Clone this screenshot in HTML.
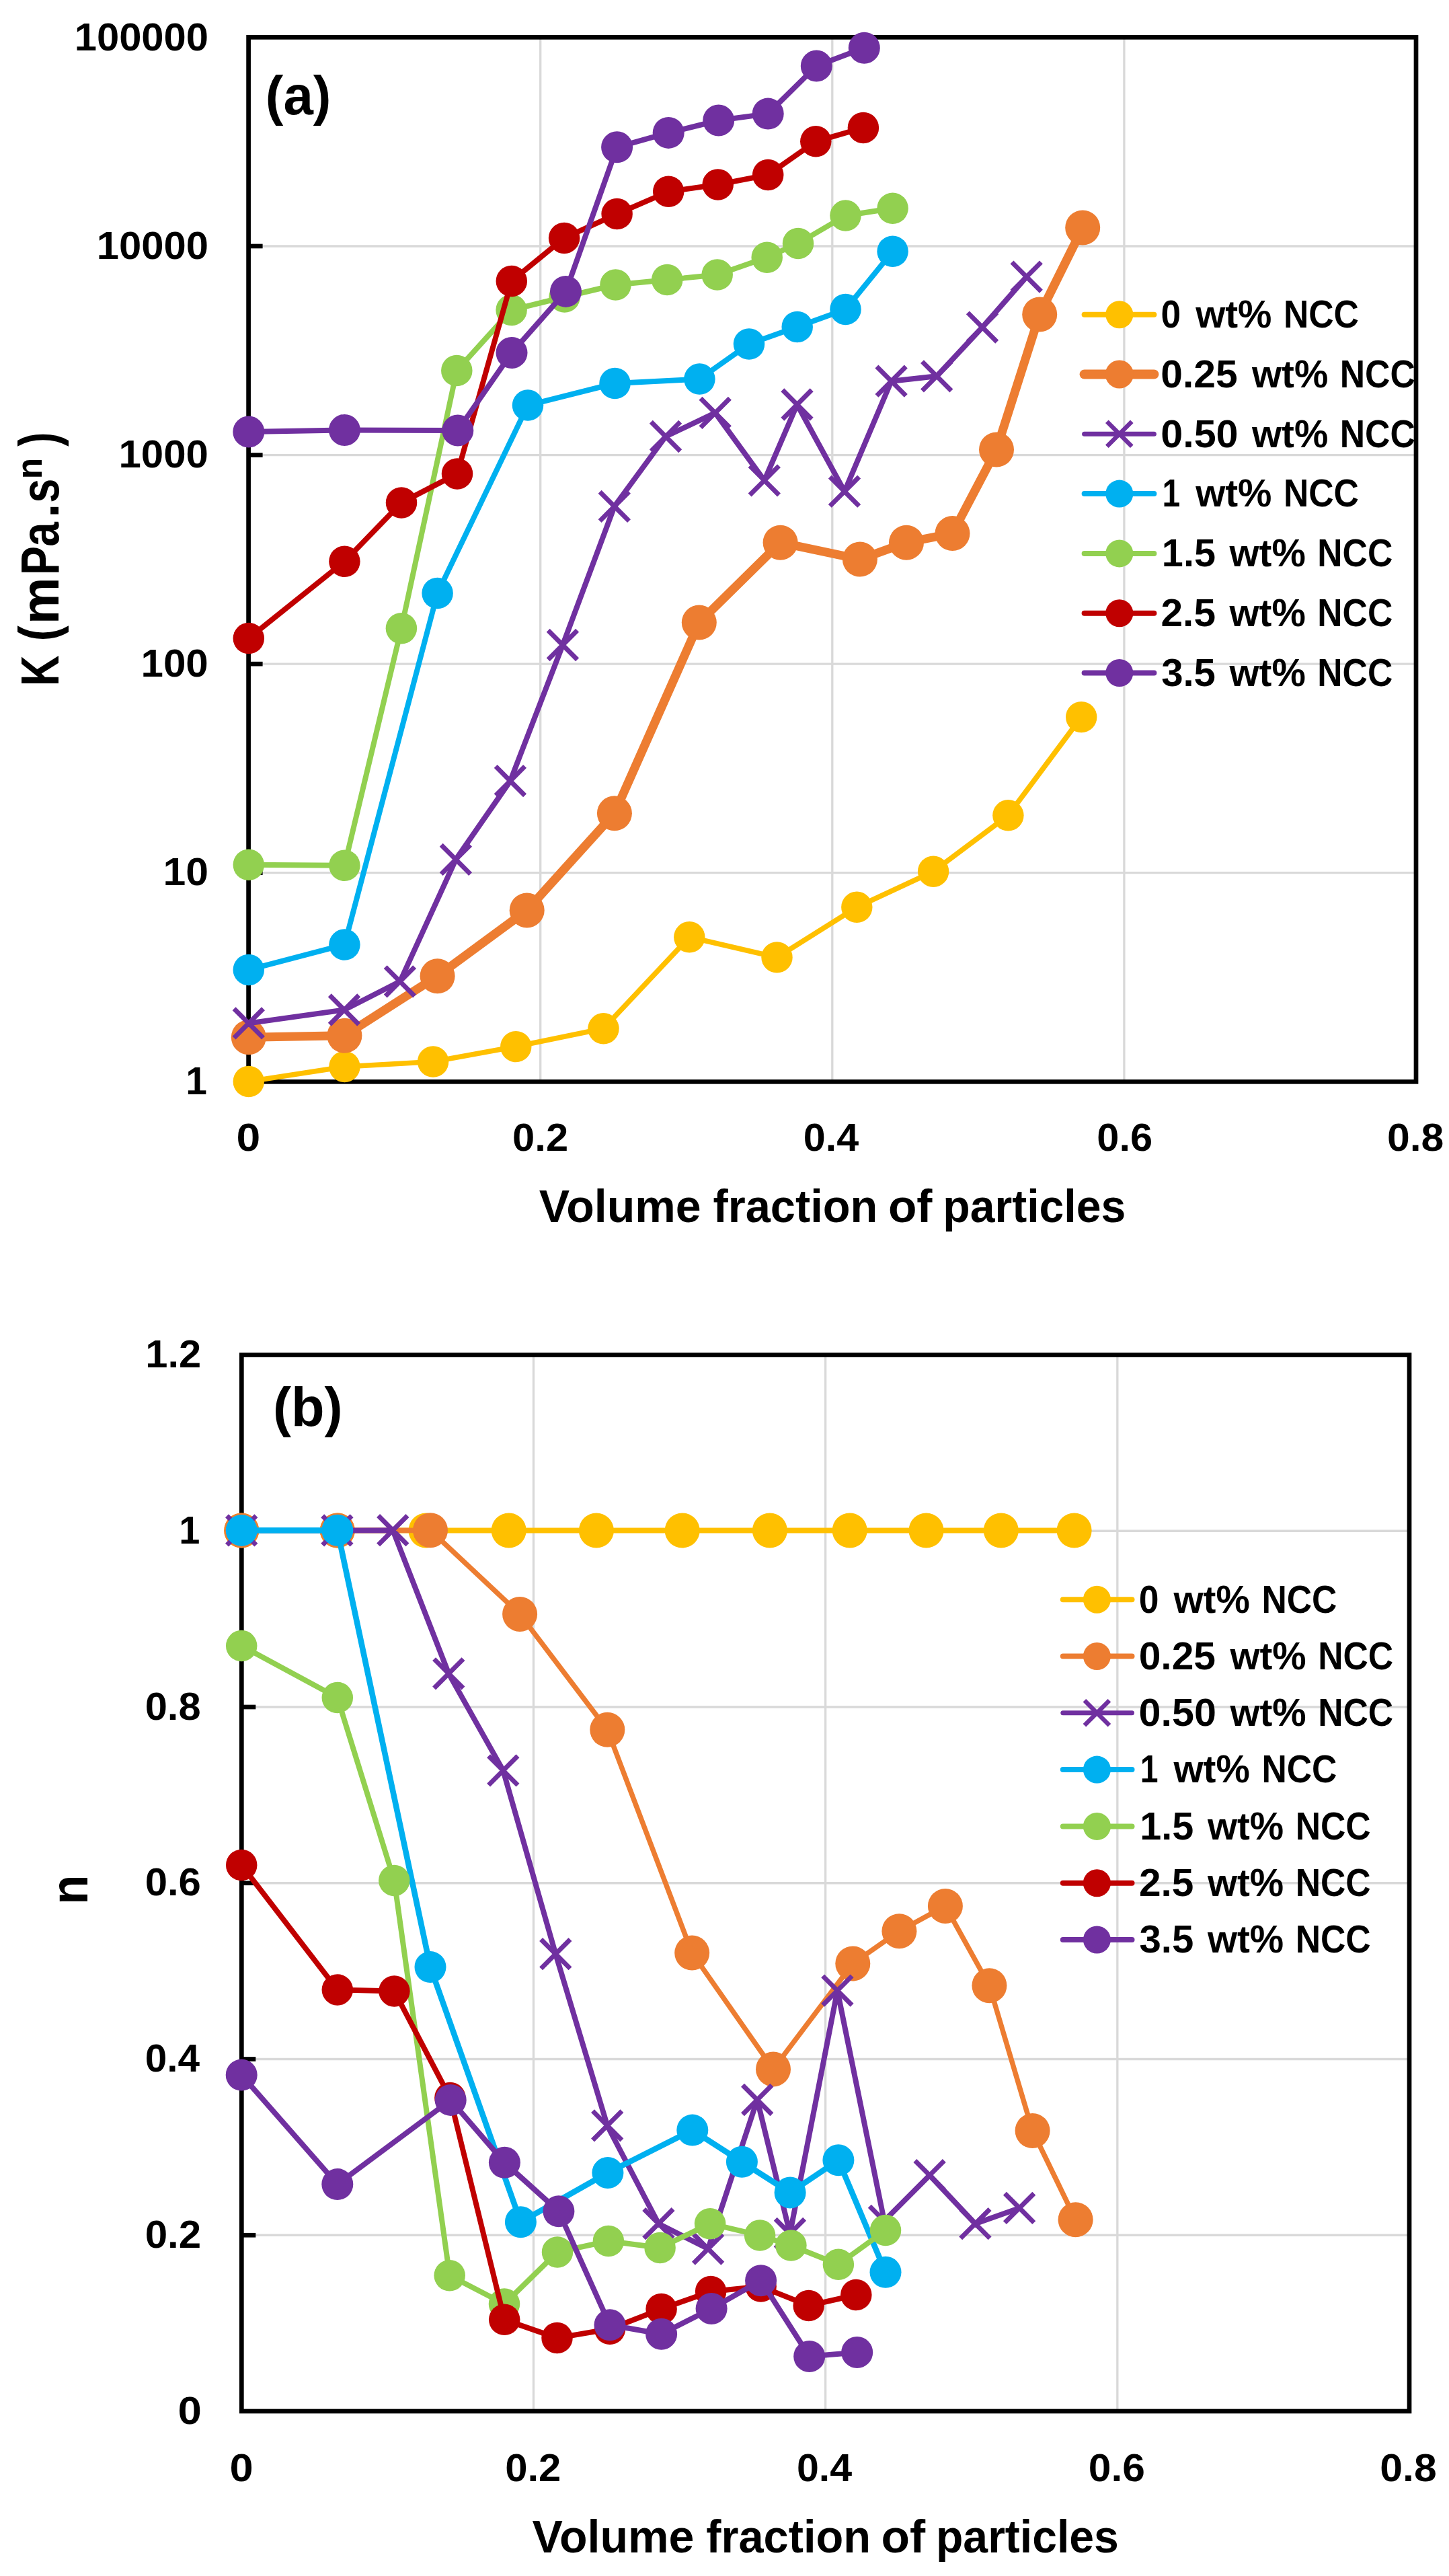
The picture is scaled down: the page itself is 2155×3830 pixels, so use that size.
<!DOCTYPE html>
<html><head><meta charset="utf-8"><title>Figure</title>
<style>html,body{margin:0;padding:0;background:#fff}svg{display:block}</style>
</head><body>
<svg width="2155" height="3830" viewBox="0 0 2155 3830">
<rect width="2155" height="3830" fill="#fff"/>
<line x1="803.7" y1="55.4" x2="803.7" y2="1608.3" stroke="#D9D9D9" stroke-width="3.3"/>
<line x1="1237.8000000000002" y1="55.4" x2="1237.8000000000002" y2="1608.3" stroke="#D9D9D9" stroke-width="3.3"/>
<line x1="1671.9" y1="55.4" x2="1671.9" y2="1608.3" stroke="#D9D9D9" stroke-width="3.3"/>
<line x1="369.6" y1="365.97999999999996" x2="2106" y2="365.97999999999996" stroke="#D9D9D9" stroke-width="3.3"/>
<line x1="369.6" y1="676.56" x2="2106" y2="676.56" stroke="#D9D9D9" stroke-width="3.3"/>
<line x1="369.6" y1="987.14" x2="2106" y2="987.14" stroke="#D9D9D9" stroke-width="3.3"/>
<line x1="369.6" y1="1297.72" x2="2106" y2="1297.72" stroke="#D9D9D9" stroke-width="3.3"/>
<line x1="369.6" y1="365.97999999999996" x2="390.6" y2="365.97999999999996" stroke="#000" stroke-width="6.7"/>
<line x1="369.6" y1="676.56" x2="390.6" y2="676.56" stroke="#000" stroke-width="6.7"/>
<line x1="369.6" y1="987.14" x2="390.6" y2="987.14" stroke="#000" stroke-width="6.7"/>
<line x1="369.6" y1="1297.72" x2="390.6" y2="1297.72" stroke="#000" stroke-width="6.7"/>
<rect x="369.6" y="55.4" width="1736.4" height="1552.8999999999999" fill="none" stroke="#000" stroke-width="6.7"/>
<polyline points="369.8,1608.0 512.4,1586.0 644.1,1578.5 767.3,1556.1 897.5,1529.3 1025.3,1393.3 1155.5,1423.4 1274.3,1348.8 1388.1,1295.7 1499.4,1212.3 1608.2,1066.1" fill="none" stroke="#FFC000" stroke-width="7.7" stroke-linejoin="round" stroke-linecap="round"/>
<circle cx="369.8" cy="1608.0" r="23.2" fill="#FFC000"/>
<circle cx="512.4" cy="1586.0" r="23.2" fill="#FFC000"/>
<circle cx="644.1" cy="1578.5" r="23.2" fill="#FFC000"/>
<circle cx="767.3" cy="1556.1" r="23.2" fill="#FFC000"/>
<circle cx="897.5" cy="1529.3" r="23.2" fill="#FFC000"/>
<circle cx="1025.3" cy="1393.3" r="23.2" fill="#FFC000"/>
<circle cx="1155.5" cy="1423.4" r="23.2" fill="#FFC000"/>
<circle cx="1274.3" cy="1348.8" r="23.2" fill="#FFC000"/>
<circle cx="1388.1" cy="1295.7" r="23.2" fill="#FFC000"/>
<circle cx="1499.4" cy="1212.3" r="23.2" fill="#FFC000"/>
<circle cx="1608.2" cy="1066.1" r="23.2" fill="#FFC000"/>
<polyline points="369.8,1542.2 512.4,1539.8 650.6,1451.3 783.7,1353.4 913.9,1209.3 1039.8,925.6 1160.6,806.7 1278.9,831.6 1348.0,806.7 1416.5,793.1 1482.0,668.5 1546.2,467.5 1610.2,338.5" fill="none" stroke="#ED7D31" stroke-width="13" stroke-linejoin="round" stroke-linecap="round"/>
<circle cx="369.8" cy="1542.2" r="26.0" fill="#ED7D31"/>
<circle cx="512.4" cy="1539.8" r="26.0" fill="#ED7D31"/>
<circle cx="650.6" cy="1451.3" r="26.0" fill="#ED7D31"/>
<circle cx="783.7" cy="1353.4" r="26.0" fill="#ED7D31"/>
<circle cx="913.9" cy="1209.3" r="26.0" fill="#ED7D31"/>
<circle cx="1039.8" cy="925.6" r="26.0" fill="#ED7D31"/>
<circle cx="1160.6" cy="806.7" r="26.0" fill="#ED7D31"/>
<circle cx="1278.9" cy="831.6" r="26.0" fill="#ED7D31"/>
<circle cx="1348.0" cy="806.7" r="26.0" fill="#ED7D31"/>
<circle cx="1416.5" cy="793.1" r="26.0" fill="#ED7D31"/>
<circle cx="1482.0" cy="668.5" r="26.0" fill="#ED7D31"/>
<circle cx="1546.2" cy="467.5" r="26.0" fill="#ED7D31"/>
<circle cx="1610.2" cy="338.5" r="26.0" fill="#ED7D31"/>
<polyline points="369.8,1521.4 512.0,1501.5 594.9,1459.3 677.9,1277.9 758.9,1161.1 836.9,959.0 913.8,752.9 990.0,649.0 1063.7,613.9 1136.8,714.3 1185.5,601.5 1256.0,730.7 1325.6,566.7 1393.2,559.3 1461.0,486.6 1526.7,411.6" fill="none" stroke="#7030A0" stroke-width="8" stroke-linejoin="round" stroke-linecap="round"/>
<path d="M348.1 1499.7L391.5 1543.1M348.1 1543.1L391.5 1499.7M490.3 1479.8L533.7 1523.2M490.3 1523.2L533.7 1479.8M573.2 1437.6L616.6 1481.0M573.2 1481.0L616.6 1437.6M656.2 1256.2L699.6 1299.6M656.2 1299.6L699.6 1256.2M737.2 1139.4L780.6 1182.8M737.2 1182.8L780.6 1139.4M815.2 937.3L858.6 980.7M815.2 980.7L858.6 937.3M892.1 731.2L935.5 774.6M892.1 774.6L935.5 731.2M968.3 627.3L1011.7 670.7M968.3 670.7L1011.7 627.3M1042.0 592.2L1085.4 635.6M1042.0 635.6L1085.4 592.2M1115.1 692.6L1158.5 736.0M1115.1 736.0L1158.5 692.6M1163.8 579.8L1207.2 623.2M1163.8 623.2L1207.2 579.8M1234.3 709.0L1277.7 752.4M1234.3 752.4L1277.7 709.0M1303.9 545.0L1347.3 588.4M1303.9 588.4L1347.3 545.0M1371.5 537.6L1414.9 581.0M1371.5 581.0L1414.9 537.6M1439.3 464.9L1482.7 508.3M1439.3 508.3L1482.7 464.9M1505.0 389.9L1548.4 433.3M1505.0 433.3L1548.4 389.9" fill="none" stroke="#7030A0" stroke-width="7"/>
<polyline points="369.8,1441.9 512.4,1404.6 650.6,882.0 785.0,602.6 914.5,570.0 1040.4,563.6 1114.0,511.5 1185.7,485.9 1257.5,459.9 1327.6,373.8" fill="none" stroke="#00B0F0" stroke-width="8" stroke-linejoin="round" stroke-linecap="round"/>
<circle cx="369.8" cy="1441.9" r="23.25" fill="#00B0F0"/>
<circle cx="512.4" cy="1404.6" r="23.25" fill="#00B0F0"/>
<circle cx="650.6" cy="882.0" r="23.25" fill="#00B0F0"/>
<circle cx="785.0" cy="602.6" r="23.25" fill="#00B0F0"/>
<circle cx="914.5" cy="570.0" r="23.25" fill="#00B0F0"/>
<circle cx="1040.4" cy="563.6" r="23.25" fill="#00B0F0"/>
<circle cx="1114.0" cy="511.5" r="23.25" fill="#00B0F0"/>
<circle cx="1185.7" cy="485.9" r="23.25" fill="#00B0F0"/>
<circle cx="1257.5" cy="459.9" r="23.25" fill="#00B0F0"/>
<circle cx="1327.6" cy="373.8" r="23.25" fill="#00B0F0"/>
<polyline points="369.8,1285.8 512.4,1286.8 596.9,934.2 679.3,551.0 760.6,461.0 839.6,441.5 915.5,423.5 992.2,416.0 1066.7,408.5 1140.7,382.7 1187.0,361.9 1257.5,320.6 1327.6,309.7" fill="none" stroke="#92D050" stroke-width="8" stroke-linejoin="round" stroke-linecap="round"/>
<circle cx="369.8" cy="1285.8" r="23.25" fill="#92D050"/>
<circle cx="512.4" cy="1286.8" r="23.25" fill="#92D050"/>
<circle cx="596.9" cy="934.2" r="23.25" fill="#92D050"/>
<circle cx="679.3" cy="551.0" r="23.25" fill="#92D050"/>
<circle cx="760.6" cy="461.0" r="23.25" fill="#92D050"/>
<circle cx="839.6" cy="441.5" r="23.25" fill="#92D050"/>
<circle cx="915.5" cy="423.5" r="23.25" fill="#92D050"/>
<circle cx="992.2" cy="416.0" r="23.25" fill="#92D050"/>
<circle cx="1066.7" cy="408.5" r="23.25" fill="#92D050"/>
<circle cx="1140.7" cy="382.7" r="23.25" fill="#92D050"/>
<circle cx="1187.0" cy="361.9" r="23.25" fill="#92D050"/>
<circle cx="1257.5" cy="320.6" r="23.25" fill="#92D050"/>
<circle cx="1327.6" cy="309.7" r="23.25" fill="#92D050"/>
<polyline points="369.8,949.1 512.4,834.8 597.0,747.4 680.0,704.4 760.8,418.0 839.1,353.9 917.6,318.1 994.2,284.8 1067.7,274.4 1142.2,260.0 1213.3,210.3 1283.9,189.9" fill="none" stroke="#C00000" stroke-width="8" stroke-linejoin="round" stroke-linecap="round"/>
<circle cx="369.8" cy="949.1" r="23.25" fill="#C00000"/>
<circle cx="512.4" cy="834.8" r="23.25" fill="#C00000"/>
<circle cx="597.0" cy="747.4" r="23.25" fill="#C00000"/>
<circle cx="680.0" cy="704.4" r="23.25" fill="#C00000"/>
<circle cx="760.8" cy="418.0" r="23.25" fill="#C00000"/>
<circle cx="839.1" cy="353.9" r="23.25" fill="#C00000"/>
<circle cx="917.6" cy="318.1" r="23.25" fill="#C00000"/>
<circle cx="994.2" cy="284.8" r="23.25" fill="#C00000"/>
<circle cx="1067.7" cy="274.4" r="23.25" fill="#C00000"/>
<circle cx="1142.2" cy="260.0" r="23.25" fill="#C00000"/>
<circle cx="1213.3" cy="210.3" r="23.25" fill="#C00000"/>
<circle cx="1283.9" cy="189.9" r="23.25" fill="#C00000"/>
<polyline points="369.8,642.0 512.4,639.5 680.8,640.0 761.0,524.5 841.5,433.4 917.6,218.8 994.2,197.4 1068.7,179.0 1142.2,169.1 1214.3,98.0 1285.3,71.2" fill="none" stroke="#7030A0" stroke-width="8" stroke-linejoin="round" stroke-linecap="round"/>
<circle cx="369.8" cy="642.0" r="23.5" fill="#7030A0"/>
<circle cx="512.4" cy="639.5" r="23.5" fill="#7030A0"/>
<circle cx="680.8" cy="640.0" r="23.5" fill="#7030A0"/>
<circle cx="761.0" cy="524.5" r="23.5" fill="#7030A0"/>
<circle cx="841.5" cy="433.4" r="23.5" fill="#7030A0"/>
<circle cx="917.6" cy="218.8" r="23.5" fill="#7030A0"/>
<circle cx="994.2" cy="197.4" r="23.5" fill="#7030A0"/>
<circle cx="1068.7" cy="179.0" r="23.5" fill="#7030A0"/>
<circle cx="1142.2" cy="169.1" r="23.5" fill="#7030A0"/>
<circle cx="1214.3" cy="98.0" r="23.5" fill="#7030A0"/>
<circle cx="1285.3" cy="71.2" r="23.5" fill="#7030A0"/>
<text y="74.50" font-family="Liberation Sans, sans-serif" font-weight="bold" font-size="57.50"><tspan x="110.72" textLength="199.29" lengthAdjust="spacingAndGlyphs">100000</tspan></text>
<text y="384.90" font-family="Liberation Sans, sans-serif" font-weight="bold" font-size="57.50"><tspan x="143.71" textLength="166.22" lengthAdjust="spacingAndGlyphs">10000</tspan></text>
<text y="695.30" font-family="Liberation Sans, sans-serif" font-weight="bold" font-size="57.50"><tspan x="176.40" textLength="133.48" lengthAdjust="spacingAndGlyphs">1000</tspan></text>
<text y="1005.70" font-family="Liberation Sans, sans-serif" font-weight="bold" font-size="57.50"><tspan x="209.49" textLength="100.32" lengthAdjust="spacingAndGlyphs">100</tspan></text>
<text y="1316.10" font-family="Liberation Sans, sans-serif" font-weight="bold" font-size="57.50"><tspan x="242.55" textLength="67.52" lengthAdjust="spacingAndGlyphs">10</tspan></text>
<text y="1626.50" font-family="Liberation Sans, sans-serif" font-weight="bold" font-size="57.50"><tspan x="276.30" textLength="31.70" lengthAdjust="spacingAndGlyphs">1</tspan></text>
<text y="1711.10" font-family="Liberation Sans, sans-serif" font-weight="bold" font-size="57.50"><tspan x="351.43" textLength="35.71" lengthAdjust="spacingAndGlyphs">0</tspan></text>
<text y="1711.10" font-family="Liberation Sans, sans-serif" font-weight="bold" font-size="57.50"><tspan x="762.11" textLength="82.98" lengthAdjust="spacingAndGlyphs">0.2</tspan></text>
<text y="1711.10" font-family="Liberation Sans, sans-serif" font-weight="bold" font-size="57.50"><tspan x="1194.83" textLength="82.38" lengthAdjust="spacingAndGlyphs">0.4</tspan></text>
<text y="1711.10" font-family="Liberation Sans, sans-serif" font-weight="bold" font-size="57.50"><tspan x="1631.32" textLength="82.67" lengthAdjust="spacingAndGlyphs">0.6</tspan></text>
<text y="1711.10" font-family="Liberation Sans, sans-serif" font-weight="bold" font-size="57.50"><tspan x="2062.97" textLength="84.36" lengthAdjust="spacingAndGlyphs">0.8</tspan></text>
<text y="1816.80" font-family="Liberation Sans, sans-serif" font-weight="bold" font-size="68.00"><tspan x="801.82" textLength="240.90" lengthAdjust="spacingAndGlyphs">Volume</tspan> <tspan x="1060.50" textLength="244.84" lengthAdjust="spacingAndGlyphs">fraction</tspan> <tspan x="1320.92" textLength="65.60" lengthAdjust="spacingAndGlyphs">of</tspan> <tspan x="1402.30" textLength="271.86" lengthAdjust="spacingAndGlyphs">particles</tspan></text>
<text y="170.00" font-family="Liberation Sans, sans-serif" font-weight="bold" font-size="81.20"><tspan x="394.80" textLength="97.67" lengthAdjust="spacingAndGlyphs">(a)</tspan></text>
<text transform="rotate(-90)" y="87.00" font-family="Liberation Sans, sans-serif" font-weight="bold" font-size="80.00"><tspan x="-1020.13" textLength="45.91" lengthAdjust="spacingAndGlyphs">K</tspan> <tspan x="-953.50" font-size="81.30" y="84.60" textLength="23.31" lengthAdjust="spacingAndGlyphs">(</tspan><tspan x="-928.31" font-size="80.00" y="87.00" textLength="69.97" lengthAdjust="spacingAndGlyphs">m</tspan><tspan x="-855.07" textLength="42.83" lengthAdjust="spacingAndGlyphs">P</tspan><tspan x="-812.67" textLength="36.52" lengthAdjust="spacingAndGlyphs">a</tspan><tspan x="-769.65" textLength="21.24" lengthAdjust="spacingAndGlyphs">.</tspan><tspan x="-747.77" textLength="36.15" lengthAdjust="spacingAndGlyphs">s</tspan><tspan x="-712.25" font-size="53.00" y="61.60" textLength="31.49" lengthAdjust="spacingAndGlyphs">n</tspan> <tspan x="-663.72" font-size="81.30" y="84.60" textLength="21.29" lengthAdjust="spacingAndGlyphs">)</tspan></text>
<line x1="1612.6" y1="467.7" x2="1716.4" y2="467.7" stroke="#FFC000" stroke-width="8" stroke-linecap="round"/>
<circle cx="1664.8" cy="467.7" r="20.5" fill="#FFC000"/>
<text y="487.00" font-family="Liberation Sans, sans-serif" font-weight="bold" font-size="57.30"><tspan x="1726.46" textLength="29.74" lengthAdjust="spacingAndGlyphs">0</tspan> <tspan x="1778.20" textLength="113.22" lengthAdjust="spacingAndGlyphs">wt%</tspan> <tspan x="1909.04" textLength="111.89" lengthAdjust="spacingAndGlyphs">NCC</tspan></text>
<line x1="1612.6" y1="556.5" x2="1716.4" y2="556.5" stroke="#ED7D31" stroke-width="14" stroke-linecap="round"/>
<circle cx="1664.8" cy="556.5" r="21.0" fill="#ED7D31"/>
<text y="575.80" font-family="Liberation Sans, sans-serif" font-weight="bold" font-size="57.30"><tspan x="1726.25" textLength="114.40" lengthAdjust="spacingAndGlyphs">0.25</tspan> <tspan x="1862.00" textLength="113.22" lengthAdjust="spacingAndGlyphs">wt%</tspan> <tspan x="1992.84" textLength="111.89" lengthAdjust="spacingAndGlyphs">NCC</tspan></text>
<line x1="1612.6" y1="645.3" x2="1716.4" y2="645.3" stroke="#7030A0" stroke-width="7" stroke-linecap="round"/>
<path d="M1646.3 626.8L1683.3 663.8M1646.3 663.8L1683.3 626.8" stroke="#7030A0" stroke-width="6.5" fill="none"/>
<text y="664.60" font-family="Liberation Sans, sans-serif" font-weight="bold" font-size="57.30"><tspan x="1726.23" textLength="115.32" lengthAdjust="spacingAndGlyphs">0.50</tspan> <tspan x="1862.00" textLength="113.22" lengthAdjust="spacingAndGlyphs">wt%</tspan> <tspan x="1992.84" textLength="111.89" lengthAdjust="spacingAndGlyphs">NCC</tspan></text>
<line x1="1612.6" y1="734.0999999999999" x2="1716.4" y2="734.0999999999999" stroke="#00B0F0" stroke-width="8" stroke-linecap="round"/>
<circle cx="1664.8" cy="734.0999999999999" r="20.5" fill="#00B0F0"/>
<text y="753.40" font-family="Liberation Sans, sans-serif" font-weight="bold" font-size="57.30"><tspan x="1728.47" textLength="26.79" lengthAdjust="spacingAndGlyphs">1</tspan> <tspan x="1778.20" textLength="113.22" lengthAdjust="spacingAndGlyphs">wt%</tspan> <tspan x="1909.04" textLength="111.89" lengthAdjust="spacingAndGlyphs">NCC</tspan></text>
<line x1="1612.6" y1="822.9" x2="1716.4" y2="822.9" stroke="#92D050" stroke-width="8" stroke-linecap="round"/>
<circle cx="1664.8" cy="822.9" r="20.5" fill="#92D050"/>
<text y="842.20" font-family="Liberation Sans, sans-serif" font-weight="bold" font-size="57.30"><tspan x="1727.86" textLength="80.08" lengthAdjust="spacingAndGlyphs">1.5</tspan> <tspan x="1828.50" textLength="113.22" lengthAdjust="spacingAndGlyphs">wt%</tspan> <tspan x="1959.34" textLength="111.89" lengthAdjust="spacingAndGlyphs">NCC</tspan></text>
<line x1="1612.6" y1="911.7" x2="1716.4" y2="911.7" stroke="#C00000" stroke-width="8" stroke-linecap="round"/>
<circle cx="1664.8" cy="911.7" r="20.5" fill="#C00000"/>
<text y="931.00" font-family="Liberation Sans, sans-serif" font-weight="bold" font-size="57.30"><tspan x="1726.55" textLength="81.42" lengthAdjust="spacingAndGlyphs">2.5</tspan> <tspan x="1828.50" textLength="113.22" lengthAdjust="spacingAndGlyphs">wt%</tspan> <tspan x="1959.34" textLength="111.89" lengthAdjust="spacingAndGlyphs">NCC</tspan></text>
<line x1="1612.6" y1="1000.5" x2="1716.4" y2="1000.5" stroke="#7030A0" stroke-width="8" stroke-linecap="round"/>
<circle cx="1664.8" cy="1000.5" r="20.5" fill="#7030A0"/>
<text y="1019.80" font-family="Liberation Sans, sans-serif" font-weight="bold" font-size="57.30"><tspan x="1727.15" textLength="80.81" lengthAdjust="spacingAndGlyphs">3.5</tspan> <tspan x="1828.50" textLength="113.22" lengthAdjust="spacingAndGlyphs">wt%</tspan> <tspan x="1959.34" textLength="111.89" lengthAdjust="spacingAndGlyphs">NCC</tspan></text>
<line x1="793.475" y1="2014.5" x2="793.475" y2="3585" stroke="#D9D9D9" stroke-width="3.3"/>
<line x1="1227.65" y1="2014.5" x2="1227.65" y2="3585" stroke="#D9D9D9" stroke-width="3.3"/>
<line x1="1661.825" y1="2014.5" x2="1661.825" y2="3585" stroke="#D9D9D9" stroke-width="3.3"/>
<line x1="359.3" y1="2276.25" x2="2096" y2="2276.25" stroke="#D9D9D9" stroke-width="3.3"/>
<line x1="359.3" y1="2538.0" x2="2096" y2="2538.0" stroke="#D9D9D9" stroke-width="3.3"/>
<line x1="359.3" y1="2799.75" x2="2096" y2="2799.75" stroke="#D9D9D9" stroke-width="3.3"/>
<line x1="359.3" y1="3061.5" x2="2096" y2="3061.5" stroke="#D9D9D9" stroke-width="3.3"/>
<line x1="359.3" y1="3323.25" x2="2096" y2="3323.25" stroke="#D9D9D9" stroke-width="3.3"/>
<line x1="359.3" y1="2276.25" x2="380.3" y2="2276.25" stroke="#000" stroke-width="6.7"/>
<line x1="359.3" y1="2538.0" x2="380.3" y2="2538.0" stroke="#000" stroke-width="6.7"/>
<line x1="359.3" y1="2799.75" x2="380.3" y2="2799.75" stroke="#000" stroke-width="6.7"/>
<line x1="359.3" y1="3061.5" x2="380.3" y2="3061.5" stroke="#000" stroke-width="6.7"/>
<line x1="359.3" y1="3323.25" x2="380.3" y2="3323.25" stroke="#000" stroke-width="6.7"/>
<rect x="359.3" y="2014.5" width="1736.7" height="1570.5" fill="none" stroke="#000" stroke-width="6.7"/>
<polyline points="359.2,2275.5 501.8,2275.5 633.5,2275.5 756.7,2275.5 886.9,2275.5 1014.7,2275.5 1144.9,2275.5 1263.7,2275.5 1377.5,2275.5 1488.8,2275.5 1597.6,2275.5" fill="none" stroke="#FFC000" stroke-width="8.2" stroke-linejoin="round" stroke-linecap="round"/>
<circle cx="359.2" cy="2275.5" r="26.0" fill="#FFC000"/>
<circle cx="501.8" cy="2275.5" r="26.0" fill="#FFC000"/>
<circle cx="633.5" cy="2275.5" r="26.0" fill="#FFC000"/>
<circle cx="756.7" cy="2275.5" r="26.0" fill="#FFC000"/>
<circle cx="886.9" cy="2275.5" r="26.0" fill="#FFC000"/>
<circle cx="1014.7" cy="2275.5" r="26.0" fill="#FFC000"/>
<circle cx="1144.9" cy="2275.5" r="26.0" fill="#FFC000"/>
<circle cx="1263.7" cy="2275.5" r="26.0" fill="#FFC000"/>
<circle cx="1377.5" cy="2275.5" r="26.0" fill="#FFC000"/>
<circle cx="1488.8" cy="2275.5" r="26.0" fill="#FFC000"/>
<circle cx="1597.6" cy="2275.5" r="26.0" fill="#FFC000"/>
<polyline points="359.2,2275.4 501.8,2275.4 640.0,2275.2 773.1,2399.9 903.3,2571.8 1029.2,2903.6 1150.0,3076.4 1268.3,2919.4 1337.4,2871.2 1405.9,2833.9 1471.4,2952.2 1535.6,3168.0 1599.6,3300.2" fill="none" stroke="#ED7D31" stroke-width="7.5" stroke-linejoin="round" stroke-linecap="round"/>
<circle cx="359.2" cy="2275.4" r="26.0" fill="#ED7D31"/>
<circle cx="501.8" cy="2275.4" r="26.0" fill="#ED7D31"/>
<circle cx="640.0" cy="2275.2" r="26.0" fill="#ED7D31"/>
<circle cx="773.1" cy="2399.9" r="26.0" fill="#ED7D31"/>
<circle cx="903.3" cy="2571.8" r="26.0" fill="#ED7D31"/>
<circle cx="1029.2" cy="2903.6" r="26.0" fill="#ED7D31"/>
<circle cx="1150.0" cy="3076.4" r="26.0" fill="#ED7D31"/>
<circle cx="1268.3" cy="2919.4" r="26.0" fill="#ED7D31"/>
<circle cx="1337.4" cy="2871.2" r="26.0" fill="#ED7D31"/>
<circle cx="1405.9" cy="2833.9" r="26.0" fill="#ED7D31"/>
<circle cx="1471.4" cy="2952.2" r="26.0" fill="#ED7D31"/>
<circle cx="1535.6" cy="3168.0" r="26.0" fill="#ED7D31"/>
<circle cx="1599.6" cy="3300.2" r="26.0" fill="#ED7D31"/>
<polyline points="359.2,2275.4 501.4,2275.4 584.3,2275.2 667.3,2488.3 748.3,2632.4 826.3,2905.2 903.2,3160.3 979.4,3306.2 1053.1,3343.5 1126.2,3122.0 1174.9,3321.0 1245.4,2959.6 1315.0,3302.0 1382.6,3234.2 1450.4,3306.2 1516.1,3282.9" fill="none" stroke="#7030A0" stroke-width="8" stroke-linejoin="round" stroke-linecap="round"/>
<path d="M337.5 2253.7L380.9 2297.1M337.5 2297.1L380.9 2253.7M479.7 2253.7L523.1 2297.1M479.7 2297.1L523.1 2253.7M562.6 2253.5L606.0 2296.9M562.6 2296.9L606.0 2253.5M645.6 2466.6L689.0 2510.0M645.6 2510.0L689.0 2466.6M726.6 2610.7L770.0 2654.1M726.6 2654.1L770.0 2610.7M804.6 2883.5L848.0 2926.9M804.6 2926.9L848.0 2883.5M881.5 3138.6L924.9 3182.0M881.5 3182.0L924.9 3138.6M957.7 3284.5L1001.1 3327.9M957.7 3327.9L1001.1 3284.5M1031.4 3321.8L1074.8 3365.2M1031.4 3365.2L1074.8 3321.8M1104.5 3100.3L1147.9 3143.7M1104.5 3143.7L1147.9 3100.3M1153.2 3299.3L1196.6 3342.7M1153.2 3342.7L1196.6 3299.3M1223.7 2937.9L1267.1 2981.3M1223.7 2981.3L1267.1 2937.9M1293.3 3280.3L1336.7 3323.7M1293.3 3323.7L1336.7 3280.3M1360.9 3212.5L1404.3 3255.9M1360.9 3255.9L1404.3 3212.5M1428.7 3284.5L1472.1 3327.9M1428.7 3327.9L1472.1 3284.5M1494.4 3261.2L1537.8 3304.6M1494.4 3304.6L1537.8 3261.2" fill="none" stroke="#7030A0" stroke-width="7"/>
<polyline points="359.2,2275.4 501.8,2275.2 640.0,2924.6 774.4,3303.7 903.9,3230.5 1029.8,3167.1 1103.4,3214.3 1175.1,3260.0 1246.9,3211.8 1317.0,3378.3" fill="none" stroke="#00B0F0" stroke-width="8.6" stroke-linejoin="round" stroke-linecap="round"/>
<circle cx="359.2" cy="2275.4" r="23.5" fill="#00B0F0"/>
<circle cx="501.8" cy="2275.2" r="23.5" fill="#00B0F0"/>
<circle cx="640.0" cy="2924.6" r="23.5" fill="#00B0F0"/>
<circle cx="774.4" cy="3303.7" r="23.5" fill="#00B0F0"/>
<circle cx="903.9" cy="3230.5" r="23.5" fill="#00B0F0"/>
<circle cx="1029.8" cy="3167.1" r="23.5" fill="#00B0F0"/>
<circle cx="1103.4" cy="3214.3" r="23.5" fill="#00B0F0"/>
<circle cx="1175.1" cy="3260.0" r="23.5" fill="#00B0F0"/>
<circle cx="1246.9" cy="3211.8" r="23.5" fill="#00B0F0"/>
<circle cx="1317.0" cy="3378.3" r="23.5" fill="#00B0F0"/>
<polyline points="359.2,2447.1 501.8,2524.1 586.3,2795.9 668.7,3383.2 750.0,3425.5 829.0,3348.4 904.9,3332.0 981.6,3342.0 1056.1,3306.2 1130.1,3323.6 1176.4,3338.5 1246.9,3366.8 1317.0,3316.1" fill="none" stroke="#92D050" stroke-width="8" stroke-linejoin="round" stroke-linecap="round"/>
<circle cx="359.2" cy="2447.1" r="23.25" fill="#92D050"/>
<circle cx="501.8" cy="2524.1" r="23.25" fill="#92D050"/>
<circle cx="586.3" cy="2795.9" r="23.25" fill="#92D050"/>
<circle cx="668.7" cy="3383.2" r="23.25" fill="#92D050"/>
<circle cx="750.0" cy="3425.5" r="23.25" fill="#92D050"/>
<circle cx="829.0" cy="3348.4" r="23.25" fill="#92D050"/>
<circle cx="904.9" cy="3332.0" r="23.25" fill="#92D050"/>
<circle cx="981.6" cy="3342.0" r="23.25" fill="#92D050"/>
<circle cx="1056.1" cy="3306.2" r="23.25" fill="#92D050"/>
<circle cx="1130.1" cy="3323.6" r="23.25" fill="#92D050"/>
<circle cx="1176.4" cy="3338.5" r="23.25" fill="#92D050"/>
<circle cx="1246.9" cy="3366.8" r="23.25" fill="#92D050"/>
<circle cx="1317.0" cy="3316.1" r="23.25" fill="#92D050"/>
<polyline points="359.2,2773.0 501.8,2958.4 586.4,2960.4 669.4,3118.9 750.2,3448.8 828.5,3476.1 907.0,3462.7 983.6,3432.9 1057.1,3407.0 1131.6,3399.6 1202.7,3428.0 1273.3,3412.0" fill="none" stroke="#C00000" stroke-width="8" stroke-linejoin="round" stroke-linecap="round"/>
<circle cx="359.2" cy="2773.0" r="23.25" fill="#C00000"/>
<circle cx="501.8" cy="2958.4" r="23.25" fill="#C00000"/>
<circle cx="586.4" cy="2960.4" r="23.25" fill="#C00000"/>
<circle cx="669.4" cy="3118.9" r="23.25" fill="#C00000"/>
<circle cx="750.2" cy="3448.8" r="23.25" fill="#C00000"/>
<circle cx="828.5" cy="3476.1" r="23.25" fill="#C00000"/>
<circle cx="907.0" cy="3462.7" r="23.25" fill="#C00000"/>
<circle cx="983.6" cy="3432.9" r="23.25" fill="#C00000"/>
<circle cx="1057.1" cy="3407.0" r="23.25" fill="#C00000"/>
<circle cx="1131.6" cy="3399.6" r="23.25" fill="#C00000"/>
<circle cx="1202.7" cy="3428.0" r="23.25" fill="#C00000"/>
<circle cx="1273.3" cy="3412.0" r="23.25" fill="#C00000"/>
<polyline points="359.2,3085.1 501.8,3247.6 670.2,3122.4 750.4,3215.3 830.9,3287.8 907.0,3456.8 983.6,3470.2 1058.1,3432.5 1131.6,3390.7 1203.7,3503.5 1274.7,3497.5" fill="none" stroke="#7030A0" stroke-width="8" stroke-linejoin="round" stroke-linecap="round"/>
<circle cx="359.2" cy="3085.1" r="23.5" fill="#7030A0"/>
<circle cx="501.8" cy="3247.6" r="23.5" fill="#7030A0"/>
<circle cx="670.2" cy="3122.4" r="23.5" fill="#7030A0"/>
<circle cx="750.4" cy="3215.3" r="23.5" fill="#7030A0"/>
<circle cx="830.9" cy="3287.8" r="23.5" fill="#7030A0"/>
<circle cx="907.0" cy="3456.8" r="23.5" fill="#7030A0"/>
<circle cx="983.6" cy="3470.2" r="23.5" fill="#7030A0"/>
<circle cx="1058.1" cy="3432.5" r="23.5" fill="#7030A0"/>
<circle cx="1131.6" cy="3390.7" r="23.5" fill="#7030A0"/>
<circle cx="1203.7" cy="3503.5" r="23.5" fill="#7030A0"/>
<circle cx="1274.7" cy="3497.5" r="23.5" fill="#7030A0"/>
<text y="2033.00" font-family="Liberation Sans, sans-serif" font-weight="bold" font-size="57.50"><tspan x="216.22" textLength="82.98" lengthAdjust="spacingAndGlyphs">1.2</tspan></text>
<text y="2294.75" font-family="Liberation Sans, sans-serif" font-weight="bold" font-size="57.50"><tspan x="266.17" textLength="31.10" lengthAdjust="spacingAndGlyphs">1</tspan></text>
<text y="2556.50" font-family="Liberation Sans, sans-serif" font-weight="bold" font-size="57.50"><tspan x="215.72" textLength="82.88" lengthAdjust="spacingAndGlyphs">0.8</tspan></text>
<text y="2818.25" font-family="Liberation Sans, sans-serif" font-weight="bold" font-size="57.50"><tspan x="215.71" textLength="83.20" lengthAdjust="spacingAndGlyphs">0.6</tspan></text>
<text y="3080.00" font-family="Liberation Sans, sans-serif" font-weight="bold" font-size="57.50"><tspan x="215.76" textLength="81.34" lengthAdjust="spacingAndGlyphs">0.4</tspan></text>
<text y="3341.75" font-family="Liberation Sans, sans-serif" font-weight="bold" font-size="57.50"><tspan x="215.70" textLength="83.52" lengthAdjust="spacingAndGlyphs">0.2</tspan></text>
<text y="3603.50" font-family="Liberation Sans, sans-serif" font-weight="bold" font-size="57.50"><tspan x="264.46" textLength="35.36" lengthAdjust="spacingAndGlyphs">0</tspan></text>
<text y="3689.00" font-family="Liberation Sans, sans-serif" font-weight="bold" font-size="57.50"><tspan x="341.47" textLength="35.13" lengthAdjust="spacingAndGlyphs">0</tspan></text>
<text y="3689.00" font-family="Liberation Sans, sans-serif" font-weight="bold" font-size="57.50"><tspan x="751.21" textLength="83.20" lengthAdjust="spacingAndGlyphs">0.2</tspan></text>
<text y="3689.00" font-family="Liberation Sans, sans-serif" font-weight="bold" font-size="57.50"><tspan x="1184.94" textLength="82.17" lengthAdjust="spacingAndGlyphs">0.4</tspan></text>
<text y="3689.00" font-family="Liberation Sans, sans-serif" font-weight="bold" font-size="57.50"><tspan x="1618.88" textLength="84.04" lengthAdjust="spacingAndGlyphs">0.6</tspan></text>
<text y="3689.00" font-family="Liberation Sans, sans-serif" font-weight="bold" font-size="57.50"><tspan x="2052.37" textLength="84.36" lengthAdjust="spacingAndGlyphs">0.8</tspan></text>
<text y="3794.60" font-family="Liberation Sans, sans-serif" font-weight="bold" font-size="68.00"><tspan x="791.52" textLength="240.90" lengthAdjust="spacingAndGlyphs">Volume</tspan> <tspan x="1050.20" textLength="244.84" lengthAdjust="spacingAndGlyphs">fraction</tspan> <tspan x="1310.62" textLength="65.60" lengthAdjust="spacingAndGlyphs">of</tspan> <tspan x="1392.00" textLength="271.86" lengthAdjust="spacingAndGlyphs">particles</tspan></text>
<text y="2120.00" font-family="Liberation Sans, sans-serif" font-weight="bold" font-size="81.20"><tspan x="405.94" textLength="103.56" lengthAdjust="spacingAndGlyphs">(b)</tspan></text>
<text transform="rotate(-90)" y="129.70" font-family="Liberation Sans, sans-serif" font-weight="bold" font-size="77.60"><tspan x="-2831.70" textLength="44.21" lengthAdjust="spacingAndGlyphs">n</tspan></text>
<line x1="1580.8" y1="2378.2" x2="1683.5" y2="2378.2" stroke="#FFC000" stroke-width="8" stroke-linecap="round"/>
<circle cx="1631.4" cy="2378.2" r="20.5" fill="#FFC000"/>
<text y="2397.50" font-family="Liberation Sans, sans-serif" font-weight="bold" font-size="57.30"><tspan x="1693.86" textLength="29.74" lengthAdjust="spacingAndGlyphs">0</tspan> <tspan x="1745.60" textLength="113.22" lengthAdjust="spacingAndGlyphs">wt%</tspan> <tspan x="1876.44" textLength="111.89" lengthAdjust="spacingAndGlyphs">NCC</tspan></text>
<line x1="1580.8" y1="2462.5" x2="1683.5" y2="2462.5" stroke="#ED7D31" stroke-width="8" stroke-linecap="round"/>
<circle cx="1631.4" cy="2462.5" r="20.5" fill="#ED7D31"/>
<text y="2481.80" font-family="Liberation Sans, sans-serif" font-weight="bold" font-size="57.30"><tspan x="1693.65" textLength="114.40" lengthAdjust="spacingAndGlyphs">0.25</tspan> <tspan x="1829.40" textLength="113.22" lengthAdjust="spacingAndGlyphs">wt%</tspan> <tspan x="1960.24" textLength="111.89" lengthAdjust="spacingAndGlyphs">NCC</tspan></text>
<line x1="1580.8" y1="2546.7999999999997" x2="1683.5" y2="2546.7999999999997" stroke="#7030A0" stroke-width="7" stroke-linecap="round"/>
<path d="M1612.9 2528.2999999999997L1649.9 2565.2999999999997M1612.9 2565.2999999999997L1649.9 2528.2999999999997" stroke="#7030A0" stroke-width="6.5" fill="none"/>
<text y="2566.10" font-family="Liberation Sans, sans-serif" font-weight="bold" font-size="57.30"><tspan x="1693.63" textLength="115.32" lengthAdjust="spacingAndGlyphs">0.50</tspan> <tspan x="1829.40" textLength="113.22" lengthAdjust="spacingAndGlyphs">wt%</tspan> <tspan x="1960.24" textLength="111.89" lengthAdjust="spacingAndGlyphs">NCC</tspan></text>
<line x1="1580.8" y1="2631.1" x2="1683.5" y2="2631.1" stroke="#00B0F0" stroke-width="8" stroke-linecap="round"/>
<circle cx="1631.4" cy="2631.1" r="20.5" fill="#00B0F0"/>
<text y="2650.40" font-family="Liberation Sans, sans-serif" font-weight="bold" font-size="57.30"><tspan x="1695.87" textLength="26.79" lengthAdjust="spacingAndGlyphs">1</tspan> <tspan x="1745.60" textLength="113.22" lengthAdjust="spacingAndGlyphs">wt%</tspan> <tspan x="1876.44" textLength="111.89" lengthAdjust="spacingAndGlyphs">NCC</tspan></text>
<line x1="1580.8" y1="2715.3999999999996" x2="1683.5" y2="2715.3999999999996" stroke="#92D050" stroke-width="8" stroke-linecap="round"/>
<circle cx="1631.4" cy="2715.3999999999996" r="20.5" fill="#92D050"/>
<text y="2734.70" font-family="Liberation Sans, sans-serif" font-weight="bold" font-size="57.30"><tspan x="1695.26" textLength="80.08" lengthAdjust="spacingAndGlyphs">1.5</tspan> <tspan x="1795.90" textLength="113.22" lengthAdjust="spacingAndGlyphs">wt%</tspan> <tspan x="1926.74" textLength="111.89" lengthAdjust="spacingAndGlyphs">NCC</tspan></text>
<line x1="1580.8" y1="2799.7" x2="1683.5" y2="2799.7" stroke="#C00000" stroke-width="8" stroke-linecap="round"/>
<circle cx="1631.4" cy="2799.7" r="20.5" fill="#C00000"/>
<text y="2819.00" font-family="Liberation Sans, sans-serif" font-weight="bold" font-size="57.30"><tspan x="1693.95" textLength="81.42" lengthAdjust="spacingAndGlyphs">2.5</tspan> <tspan x="1795.90" textLength="113.22" lengthAdjust="spacingAndGlyphs">wt%</tspan> <tspan x="1926.74" textLength="111.89" lengthAdjust="spacingAndGlyphs">NCC</tspan></text>
<line x1="1580.8" y1="2884.0" x2="1683.5" y2="2884.0" stroke="#7030A0" stroke-width="8" stroke-linecap="round"/>
<circle cx="1631.4" cy="2884.0" r="20.5" fill="#7030A0"/>
<text y="2903.30" font-family="Liberation Sans, sans-serif" font-weight="bold" font-size="57.30"><tspan x="1694.55" textLength="80.81" lengthAdjust="spacingAndGlyphs">3.5</tspan> <tspan x="1795.90" textLength="113.22" lengthAdjust="spacingAndGlyphs">wt%</tspan> <tspan x="1926.74" textLength="111.89" lengthAdjust="spacingAndGlyphs">NCC</tspan></text>
</svg>
</body></html>
